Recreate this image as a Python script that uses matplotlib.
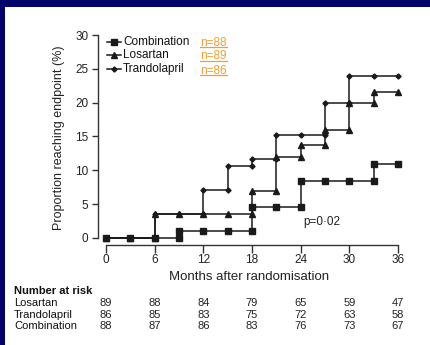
import matplotlib
matplotlib.use("Agg")
import matplotlib.pyplot as plt
from matplotlib.patches import Rectangle
from matplotlib.lines import Line2D
import matplotlib.transforms as mtrans

plt.rcParams['font.family'] = ['Liberation Sans', 'DejaVu Sans']

# ---------------- data ----------------
months = [0, 3, 6, 9, 12, 15, 18, 21, 24, 27, 30, 33, 36]
combination = [0, 0, 0, 1.1, 1.1, 1.1, 4.6, 4.6, 8.4, 8.4, 8.4, 10.9, 10.9]
losartan = [0, 0, 3.5, 3.5, 3.5, 3.5, 7.0, 11.9, 13.7, 15.9, 19.9, 21.6, 21.6]
trandolapril = [0, 0, 3.5, 3.5, 7.1, 10.6, 11.7, 15.2, 15.2, 20.0, 24.0, 24.0, 24.0]

series_names = ["Combination", "Losartan", "Trandolapril"]
series_n = ["n=88", "n=89", "n=86"]

risk_months = [0, 6, 12, 18, 24, 30, 36]
risk_names = ["Losartan", "Trandolapril", "Combination"]
risk_losartan = [89, 88, 84, 79, 65, 59, 47]
risk_trandolapril = [86, 85, 83, 75, 72, 63, 58]
risk_combination = [88, 87, 86, 83, 76, 73, 67]

yticks = [0, 5, 10, 15, 20, 25, 30]
xticks = [0, 6, 12, 18, 24, 30, 36]
p_text = "p=0\u00b702"

# ---------------- figure ----------------
W, H = 430, 345
fig = plt.figure(figsize=(W / 100, H / 100), dpi=100, facecolor='#03036b')
fig.patches.append(Rectangle((5 / W, 0), 1, 1 - 7 / H, transform=fig.transFigure,
                             facecolor='white', edgecolor='none', zorder=-10))


def fx(px):
    return px / W


def fy(py):
    return 1 - py / H


ax = fig.add_axes([fx(98), fy(240), 302 / W, 205 / H])
ax.set_xlim(-0.986, 36.25)
ax.set_ylim(-0.3, 30)
ax.patch.set_alpha(0)


def step_path(t, v):
    xs, ys = [], []
    prev = None
    for ti, vi in zip(t, v):
        if prev is not None and vi != prev:
            xs.append(ti)
            ys.append(prev)
        xs.append(ti)
        ys.append(vi)
        prev = vi
    return xs, ys


lc = '#1a1a1a'
styles = {
    "Trandolapril": dict(marker='D', ms=2.6, z=3),
    "Losartan": dict(marker='^', ms=3.9, z=4),
    "Combination": dict(marker='s', ms=3.8, z=5),
}
data = {"Combination": combination, "Losartan": losartan, "Trandolapril": trandolapril}
for name in ["Trandolapril", "Losartan", "Combination"]:
    xs, ys = step_path(months, data[name])
    st = styles[name]
    ax.plot(xs, ys, color=lc, lw=1.1, marker=st['marker'], ms=st['ms'],
            mfc=lc, mec=lc, zorder=st['z'], clip_on=False)

# spines
for s in ['top', 'right']:
    ax.spines[s].set_visible(False)
ax.spines['left'].set_bounds(0, 30)
ax.spines['bottom'].set_bounds(0, 36)
ax.spines['bottom'].set_position(('outward', 3.6))
for s in ['left', 'bottom']:
    ax.spines[s].set_linewidth(1.0)
    ax.spines[s].set_color('#333333')

ax.set_yticks(yticks)
ax.set_xticks(xticks)
ax.tick_params(axis='y', direction='out', length=4.5, width=1.0, pad=2.5,
               labelsize=8.5, colors='#333333', labelcolor='#222222')
ax.tick_params(axis='x', direction='out', length=5.8, width=1.0, pad=1.0,
               labelsize=8.5, colors='#333333', labelcolor='#222222')

ax.set_ylabel("Proportion reaching endpoint (%)", fontsize=9, color='#222222')
ax.yaxis.set_label_coords((65 - 98) / 302, 0.5)
ax.set_xlabel("Months after randomisation", fontsize=9.5, color='#222222', labelpad=3)

# p-value
ax.text(fx(303), fy(222), p_text, transform=fig.transFigure, fontsize=8.5,
        va='center', ha='left', color='#222222')

# legend (manual)
leg_y = [42, 55, 69]
n_y = [42.5, 56, 70.5]
for name, yy, ny, ntxt in zip(series_names, leg_y, n_y, series_n):
    st = styles[name]
    fig.add_artist(Line2D([fx(107), fx(121)], [fy(yy), fy(yy)], color=lc, lw=1.1,
                          transform=fig.transFigure))
    fig.add_artist(Line2D([fx(114)], [fy(yy)], color=lc, marker=st['marker'],
                          ms=st['ms'], mfc=lc, mec=lc, transform=fig.transFigure))
    fig.text(fx(123), fy(yy), name, fontsize=8.5, va='center', ha='left', color='#111111')
    fig.text(fx(200), fy(ny), ntxt, fontsize=8.5, va='center', ha='left', color='#f0a030')
    fig.add_artist(Line2D([fx(200), fx(227)], [fy(ny + 4.5), fy(ny + 4.5)],
                          color='#f0a030', lw=0.9, transform=fig.transFigure))

# number at risk table
blend = mtrans.blended_transform_factory(ax.transData, fig.transFigure)
fig.text(fx(14), fy(291), "Number at risk", fontsize=8, fontweight='bold',
         va='center', ha='left', color='#111111')
rows = [risk_losartan, risk_trandolapril, risk_combination]
row_y = [303, 314.5, 326]
for name, vals, yy in zip(risk_names, rows, row_y):
    fig.text(fx(14), fy(yy), name, fontsize=8, va='center', ha='left', color='#111111')
    for m, v in zip(risk_months, vals):
        ax.text(m, fy(yy), str(v), transform=blend, fontsize=8, va='center',
                ha='center', color='#222222', clip_on=False)

fig.savefig("out.png", dpi=100, facecolor=fig.get_facecolor())
